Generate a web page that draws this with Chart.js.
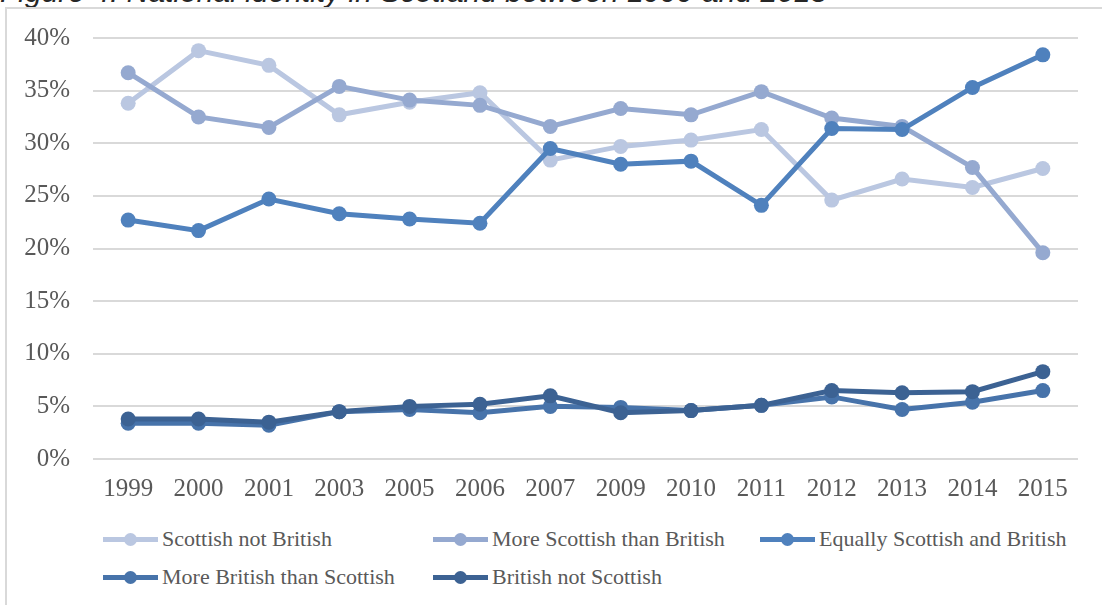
<!DOCTYPE html>
<html lang="en">
<head>
    <meta charset="UTF-8">
    <title>National identity in Scotland</title>
    <script src="https://cdn.jsdelivr.net/npm/chart.js"></script>
    <style>
        body {
            background-color: #ffffff;
            margin: 0;
            padding: 0;
            width: 1102px;
            height: 605px;
            overflow: hidden;
            position: relative;
        }
        .caption {
            position: absolute;
            left: 0;
            top: -23px;
            font-family: 'Liberation Sans', sans-serif;
            font-style: italic;
            font-size: 30px;
            line-height: 30px;
            color: #262626;
            white-space: nowrap;
        }
        .frame {
            position: absolute;
            left: 5px;
            top: 7px;
            width: 1120px;
            height: 620px;
            border: 2px solid #d9d9d9;
        }
        .chart-box {
            position: absolute;
            left: 0;
            top: 0;
        }
        .legend {
            position: absolute;
            left: 0;
            top: 0;
            font-family: 'Liberation Serif', serif;
            font-size: 22px;
            color: #595959;
        }
        .legend-item {
            position: absolute;
            white-space: nowrap;
            display: flex;
            align-items: center;
            height: 30px;
        }
        .marker {
            position: relative;
            width: 55px;
            height: 5px;
            margin-right: 4px;
        }
        .marker span {
            position: absolute;
            left: 21px;
            top: -4px;
            width: 13px;
            height: 13px;
            border-radius: 50%;
        }
    </style>
</head>
<body>

    <div class="caption">Figure 4: National identity in Scotland between 1999 and 2015</div>
    <div class="frame"></div>
    <div class="chart-box">
        <canvas id="identityChart" width="1102" height="520"></canvas>
    </div>
    <div class="legend" id="legend"></div>

    <script>
        const years = ["1999", "2000", "2001", "2003", "2005", "2006", "2007", "2009", "2010", "2011", "2012", "2013", "2014", "2015"];

        const scottishNotBritish = [33.8, 38.8, 37.4, 32.7, 33.9, 34.8, 28.4, 29.7, 30.3, 31.3, 24.6, 26.6, 25.8, 27.6];
        const moreScottish = [36.7, 32.5, 31.5, 35.4, 34.1, 33.6, 31.6, 33.3, 32.7, 34.9, 32.4, 31.6, 27.7, 19.6];
        const equallyBoth = [22.7, 21.7, 24.7, 23.3, 22.8, 22.4, 29.5, 28.0, 28.3, 24.1, 31.4, 31.3, 35.3, 38.4];
        const moreBritish = [3.4, 3.4, 3.2, 4.5, 4.7, 4.4, 5.0, 4.9, 4.6, 5.1, 5.9, 4.7, 5.4, 6.5];
        const britishNotScottish = [3.8, 3.8, 3.5, 4.5, 5.0, 5.2, 6.0, 4.4, 4.6, 5.1, 6.5, 6.3, 6.4, 8.3];

        const seriesNames = ["Scottish not British", "More Scottish than British", "Equally Scottish and British", "More British than Scottish", "British not Scottish"];
        const seriesColors = ["#bac7e1", "#95a9d0", "#4f81bd", "#4773aa", "#3c6293"];

        const allSeries = [scottishNotBritish, moreScottish, equallyBoth, moreBritish, britishNotScottish];

        // excel draws later series on top, chart.js draws lowest order on top
        const datasets = allSeries.map((values, i) => ({
            label: seriesNames[i],
            data: values,
            borderColor: seriesColors[i],
            backgroundColor: seriesColors[i],
            borderWidth: 5,
            pointRadius: 7.5,
            pointBorderWidth: 0,
            pointHoverRadius: 7.5,
            tension: 0,
            order: allSeries.length - 1 - i
        }));

        const tickFont = { family: "'Liberation Serif', serif", size: 25 };

        new Chart(document.getElementById("identityChart"), {
            type: "line",
            data: { labels: years, datasets },
            options: {
                responsive: false,
                animation: false,
                layout: { padding: { left: 0, right: 24, top: 37, bottom: 0 } },
                plugins: {
                    legend: { display: false },
                    tooltip: { enabled: false }
                },
                scales: {
                    x: {
                        offset: true,
                        grid: { display: false, drawTicks: false },
                        border: { display: false },
                        ticks: { color: "#595959", font: tickFont, padding: 15, maxRotation: 0 },
                        afterFit: scale => { scale.height = 61; }
                    },
                    y: {
                        min: 0,
                        max: 40,
                        grid: { color: "#d9d9d9", lineWidth: 2, drawTicks: false },
                        border: { display: false },
                        ticks: {
                            stepSize: 5,
                            color: "#595959",
                            font: tickFont,
                            padding: 23,
                            callback: v => v + "%"
                        },
                        afterFit: scale => { scale.width = 93; }
                    }
                }
            }
        });

        // legend laid out as in the original, in two rows of columns
        const legendCols = [103, 433, 760];
        const legendRows = [524, 562];
        const legendBox = document.getElementById("legend");
        seriesNames.forEach((name, i) => {
            const item = document.createElement("div");
            item.className = "legend-item";
            item.style.left = legendCols[i % 3] + "px";
            item.style.top = legendRows[Math.floor(i / 3)] + "px";
            item.innerHTML = `<div class="marker" style="background:${seriesColors[i]}"><span style="background:${seriesColors[i]}"></span></div>${name}`;
            legendBox.appendChild(item);
        });
    </script>
</body>
</html>
